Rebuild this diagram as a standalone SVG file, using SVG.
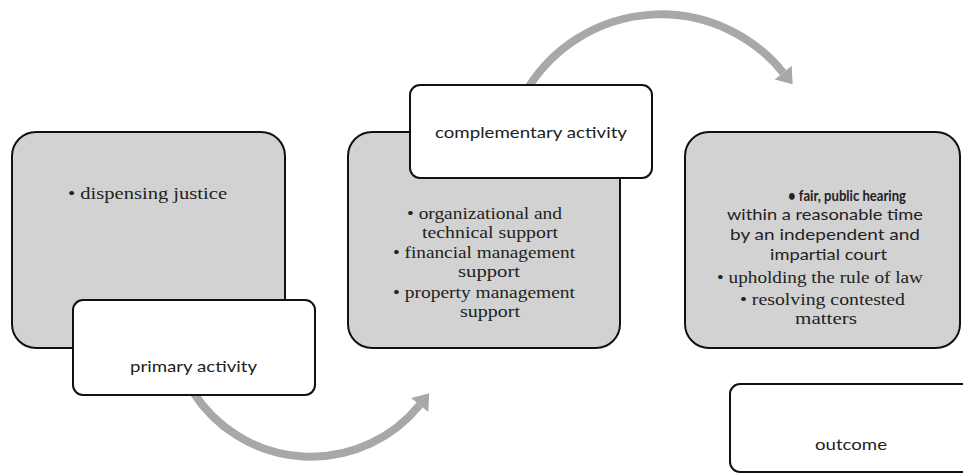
<svg xmlns="http://www.w3.org/2000/svg" width="963" height="476" viewBox="0 0 963 476">
<style>
.gray{fill:#d2d2d2;stroke:#111;stroke-width:2}
.white{fill:#fff;stroke:#111;stroke-width:2}
.serif{font-family:"Liberation Serif","Times New Roman",serif;font-size:16px;fill:#222;text-anchor:middle}
.sans{font-family:Lato,"Liberation Sans",sans-serif;font-size:16px;fill:#222;text-anchor:middle}
.conn{fill:none;stroke:#a8a8a8;stroke-width:8}
</style>
<defs>
<marker id="ah" markerUnits="userSpaceOnUse" markerWidth="20" markerHeight="24" refX="0" refY="11" orient="auto" overflow="visible">
<polygon points="0,0 15,11 0,22" fill="#a8a8a8"/>
</marker>
</defs>
<g id="connectors">
<path class="conn" d="M193,392 A140,140 0 0 0 419.7,405" marker-end="url(#ah)"/>
<path class="conn" d="M528,88 A157,157 0 0 1 783.2,72.7" marker-end="url(#ah)"/>
</g>
<g id="primary-content">
<rect class="gray" x="12" y="132" width="273" height="216" rx="24"/>
<text class="serif" x="147.5" y="199" font-size="19" textLength="159" lengthAdjust="spacingAndGlyphs">• dispensing justice</text>
</g>
<g id="primary-activity">
<rect class="white" x="73" y="300" width="242" height="95" rx="10"/>
<text class="sans" x="193.5" y="372" textLength="127" lengthAdjust="spacingAndGlyphs">primary activity</text>
</g>
<g id="complementary-content">
<rect class="gray" x="348" y="132" width="272" height="216" rx="24"/>
<text class="serif" x="484.5" y="219" textLength="155" lengthAdjust="spacingAndGlyphs">• organizational and</text>
<text class="serif" x="490" y="238" textLength="136" lengthAdjust="spacingAndGlyphs">technical support</text>
<text class="serif" x="484" y="258" textLength="182" lengthAdjust="spacingAndGlyphs">• financial management</text>
<text class="serif" x="489" y="277" textLength="62" lengthAdjust="spacingAndGlyphs">support</text>
<text class="serif" x="484" y="298" textLength="182" lengthAdjust="spacingAndGlyphs">• property management</text>
<text class="serif" x="490" y="317" textLength="60" lengthAdjust="spacingAndGlyphs">support</text>
</g>
<g id="complementary-activity">
<rect class="white" x="410" y="85" width="242" height="93" rx="10"/>
<text class="sans" x="531" y="138" textLength="192" lengthAdjust="spacingAndGlyphs">complementary activity</text>
</g>
<g id="outcome-content">
<rect class="gray" x="685" y="132" width="275" height="216" rx="24"/>
<text class="sans" x="847" y="201" font-size="14.5" font-weight="bold" textLength="118" lengthAdjust="spacingAndGlyphs">• fair, public hearing</text>
<text class="sans" x="825" y="220" textLength="196" lengthAdjust="spacingAndGlyphs">within a reasonable time</text>
<text class="sans" x="825" y="240" textLength="190" lengthAdjust="spacingAndGlyphs">by an independent and</text>
<text class="sans" x="828.5" y="260" textLength="117" lengthAdjust="spacingAndGlyphs">impartial court</text>
<text class="serif" x="820" y="283" textLength="206" lengthAdjust="spacingAndGlyphs">• upholding the rule of law</text>
<text class="serif" x="822.5" y="305" textLength="165" lengthAdjust="spacingAndGlyphs">• resolving contested</text>
<text class="serif" x="826" y="324" textLength="62" lengthAdjust="spacingAndGlyphs">matters</text>
</g>
<g id="outcome">
<rect class="white" x="730" y="384" width="244" height="88" rx="10"/>
<text class="sans" x="851" y="450" textLength="72" lengthAdjust="spacingAndGlyphs">outcome</text>
</g>
</svg>
